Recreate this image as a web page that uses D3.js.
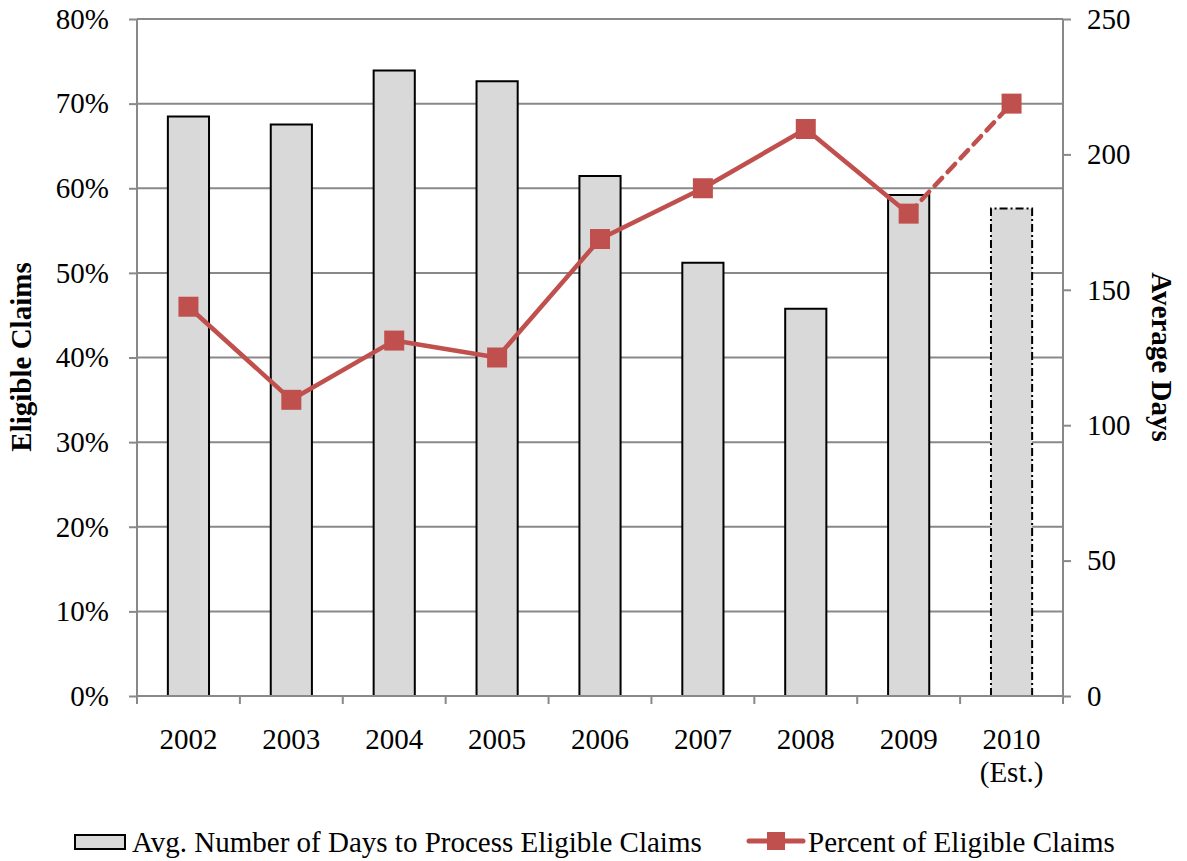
<!DOCTYPE html>
<html>
<head>
<meta charset="utf-8">
<script src="https://cdn.jsdelivr.net/npm/d3@7"></script>
<style>
  html, body { margin: 0; padding: 0; background: #fff; }
  svg text { font-family: "Liberation Serif", "Times New Roman", serif; fill: #000; }
</style>
</head>
<body>
<svg id="chart" width="1187" height="861"></svg>
<script>
const years = ["2002", "2003", "2004", "2005", "2006", "2007", "2008", "2009", "2010"];
const yearLabels = [["2002"], ["2003"], ["2004"], ["2005"], ["2006"], ["2007"], ["2008"], ["2009"], ["2010", "(Est.)"]];
const avgDays = [214, 211, 231, 227, 192, 160, 143, 185, 180];
const pctEligible = [46, 35, 42, 40, 54, 60, 67, 57, 70];
const estimatedYear = "2010";
const leftTicks = [0, 10, 20, 30, 40, 50, 60, 70, 80];
const rightTicks = [0, 50, 100, 150, 200, 250];
const seriesNames = ["Avg. Number of Days to Process Eligible Claims", "Percent of Eligible Claims"];
const axisTitles = ["Eligible Claims", "Average Days"];

const svg = d3.select("#chart");
const m = { left: 137, right: 1063, top: 19, bottom: 696 };
const FS = 29;
const gridCol = "#898989";
const red = "#C0504D";

const x = d3.scaleBand().domain(years).range([m.left, m.right]).paddingInner(0.6).paddingOuter(0.3);
const xb = d3.scaleBand().domain(years).range([m.left, m.right]);
const yL = d3.scaleLinear().domain([0, 80]).range([m.bottom, m.top]);
const yR = d3.scaleLinear().domain([0, 250]).range([m.bottom, m.top]);

// gridlines
svg.append("g").selectAll("line").data(leftTicks.filter(d => d > 0)).join("line")
  .attr("x1", m.left).attr("x2", m.right)
  .attr("y1", d => yL(d)).attr("y2", d => yL(d))
  .attr("stroke", gridCol).attr("stroke-width", 2);

// bars
const bw = xb.bandwidth() * 0.4;
svg.append("g").selectAll("path").data(years.map((y, i) => ({ y, v: avgDays[i] }))).join("g")
  .each(function(d) {
    const g = d3.select(this);
    const cx = xb(d.y) + xb.bandwidth() / 2;
    const x0 = cx - bw / 2, x1 = cx + bw / 2;
    const yt = yR(d.v), yb = yR(0);
    g.append("rect").attr("x", x0).attr("y", yt).attr("width", bw).attr("height", yb - yt).attr("fill", "#D9D9D9");
    const est = d.y === estimatedYear;
    g.append("path")
      .attr("d", `M${x0},${yb}V${yt}H${x1}V${yb}`)
      .attr("fill", "none").attr("stroke", "#000").attr("stroke-width", 2)
      .attr("stroke-dasharray", est ? "8,3,2,3" : null);
  });

// left axis
const axL = svg.append("g").attr("transform", `translate(${m.left},0)`)
  .call(d3.axisLeft(yL).tickValues(leftTicks).tickSize(8).tickPadding(20).tickFormat(d => d + "%"));
axL.select(".domain").attr("stroke", gridCol).attr("stroke-width", 2).attr("d", `M0,${m.top}V${m.bottom + 8}`);
axL.selectAll(".tick line").attr("stroke", gridCol).attr("stroke-width", 2);
axL.selectAll(".tick text").attr("font-size", FS).attr("font-family", "Liberation Serif").attr("fill", "#000");

// right axis
const axR = svg.append("g").attr("transform", `translate(${m.right},0)`)
  .call(d3.axisRight(yR).tickValues(rightTicks).tickSize(8).tickPadding(16));
axR.select(".domain").attr("stroke", gridCol).attr("stroke-width", 2).attr("d", `M0,${m.top}V${m.bottom + 8}`);
axR.selectAll(".tick line").attr("stroke", gridCol).attr("stroke-width", 2);
axR.selectAll(".tick text").attr("font-size", FS).attr("font-family", "Liberation Serif").attr("fill", "#000");

// bottom axis
const axB = svg.append("g").attr("transform", `translate(0,${m.bottom})`)
  .call(d3.axisBottom(xb).tickSize(0).tickFormat(""));
axB.select(".domain").attr("stroke", gridCol).attr("stroke-width", 2).attr("d", `M${m.left},0H${m.right}`);
axB.selectAll(".tick text").remove();
svg.append("g").selectAll("line").data(years.slice(1)).join("line")
  .attr("x1", d => xb(d)).attr("x2", d => xb(d))
  .attr("y1", m.bottom).attr("y2", m.bottom + 8)
  .attr("stroke", gridCol).attr("stroke-width", 2);
svg.append("g").selectAll("text").data(years.map((y, i) => ({ y, lines: yearLabels[i] }))).join("text")
  .attr("x", d => xb(d.y) + xb.bandwidth() / 2)
  .attr("y", 749)
  .attr("text-anchor", "middle").attr("font-size", FS)
  .each(function(d) {
    d3.select(this).selectAll("tspan").data(d.lines).join("tspan")
      .attr("x", xb(d.y) + xb.bandwidth() / 2)
      .attr("dy", (t, i) => i === 0 ? 0 : 33)
      .text(t => t);
  });

// line
const pts = years.map((y, i) => ({ y, v: pctEligible[i], px: xb(y) + xb.bandwidth() / 2, py: yL(pctEligible[i]) }));
const line = d3.line().x(d => d.px).y(d => d.py);
const estIdx = years.indexOf(estimatedYear);
svg.append("path").datum(pts.slice(0, estIdx)).attr("d", line)
  .attr("fill", "none").attr("stroke", red).attr("stroke-width", 4.5).attr("stroke-linejoin", "round");
svg.append("path").datum(pts.slice(estIdx - 1, estIdx + 1)).attr("d", line)
  .attr("fill", "none").attr("stroke", red).attr("stroke-width", 4.5)
  .attr("stroke-dasharray", "11,8").attr("stroke-linecap", "round");
const ms = 20;
svg.append("g").selectAll("rect").data(pts).join("rect")
  .attr("x", d => d.px - ms / 2).attr("y", d => d.py - ms / 2)
  .attr("width", ms).attr("height", ms).attr("fill", red);

// axis titles
svg.append("text").attr("transform", "translate(31,357) rotate(-90)")
  .attr("text-anchor", "middle").attr("font-size", FS).attr("font-weight", "bold").text(axisTitles[0]);
svg.append("text").attr("transform", "translate(1152,357) rotate(90)")
  .attr("text-anchor", "middle").attr("font-size", FS).attr("font-weight", "bold").text(axisTitles[1]);

// legend
const lg = svg.append("g");
lg.append("rect").attr("x", 75).attr("y", 835).attr("width", 50).attr("height", 14)
  .attr("fill", "#D9D9D9").attr("stroke", "#000").attr("stroke-width", 2);
lg.append("text").attr("x", 132).attr("y", 852).attr("font-size", FS).text(seriesNames[0]);
lg.append("line").attr("x1", 749).attr("x2", 803).attr("y1", 841).attr("y2", 841)
  .attr("stroke", red).attr("stroke-width", 5).attr("stroke-linecap", "round");
lg.append("rect").attr("x", 767).attr("y", 832).attr("width", 18).attr("height", 18).attr("fill", red);
lg.append("text").attr("x", 808).attr("y", 852).attr("font-size", FS).text(seriesNames[1]);
</script>
</body>
</html>
